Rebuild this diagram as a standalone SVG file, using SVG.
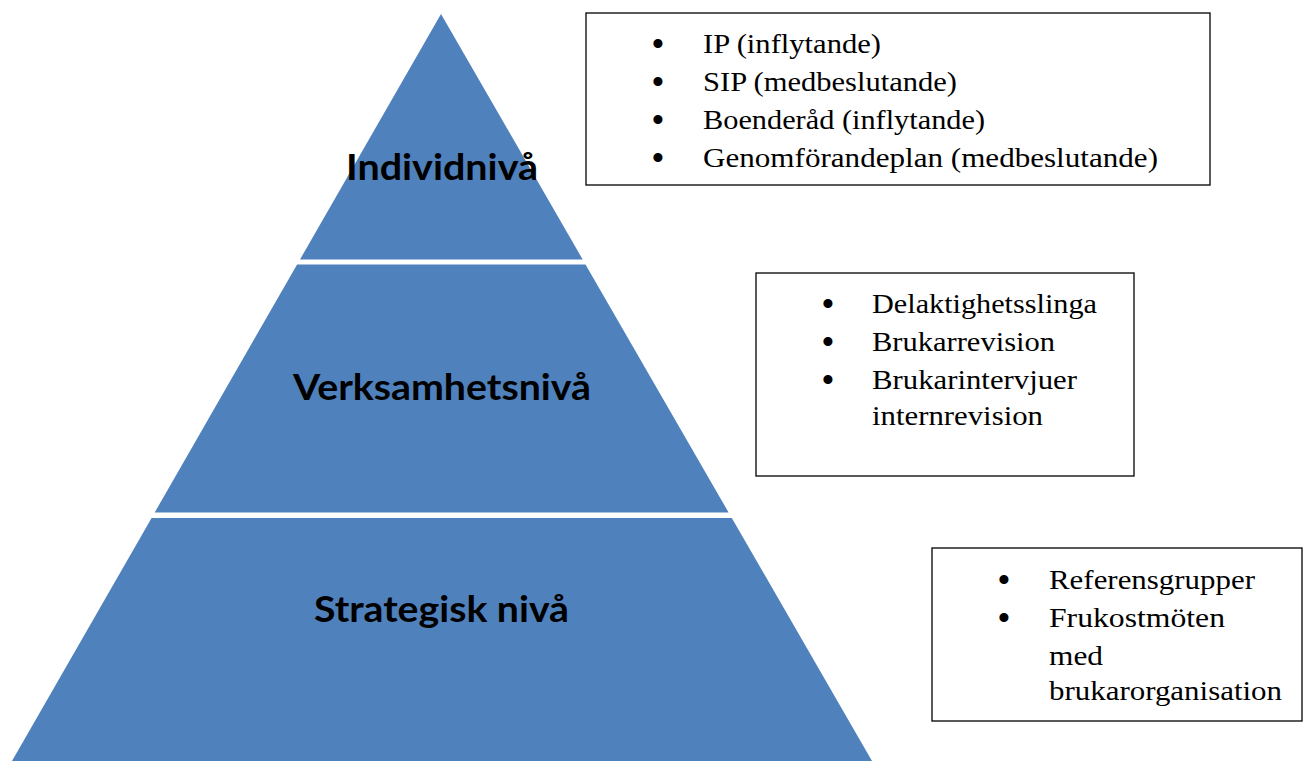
<svg xmlns="http://www.w3.org/2000/svg" width="1307" height="761" viewBox="0 0 1307 761">
<style>
.band{fill:#4F81BD;}
.lvl{font-family:Lato,"Open Sans","Liberation Sans",sans-serif;font-weight:bold;font-size:36px;fill:#000;text-anchor:middle;}
.box{fill:#fff;stroke:#000;stroke-width:1.3;}
.it{font-family:"Liberation Serif","DejaVu Serif",serif;font-size:28px;fill:#000;}
.bul{font-family:"Liberation Serif","DejaVu Serif",serif;font-size:38px;fill:#000;text-anchor:middle;}
</style>
<rect width="1307" height="761" fill="#fff"/>
<g id="level-individ">
<polygon class="band" points="441,14 582.7,259.5 300,259.5"/>
<text class="lvl" x="442" y="180" textLength="192" lengthAdjust="spacingAndGlyphs">Individnivå</text>
</g>
<g id="level-verksamhet">
<polygon class="band" points="297.1,264.5 585.5,264.5 728.6,512.5 154.7,512.5"/>
<text class="lvl" x="442" y="400" textLength="298" lengthAdjust="spacingAndGlyphs">Verksamhetsnivå</text>
</g>
<g id="level-strategisk">
<polygon class="band" points="151.6,518 731.8,518 872,761 12,761"/>
<text class="lvl" x="441.5" y="622" textLength="255" lengthAdjust="spacingAndGlyphs">Strategisk nivå</text>
</g>
<g id="box-individ">
<rect class="box" x="586" y="13" width="624" height="172"/>
<text class="bul" x="658" y="57">•</text>
<text class="it" x="703" y="53" textLength="178" lengthAdjust="spacingAndGlyphs">IP (inflytande)</text>
<text class="bul" x="658" y="95">•</text>
<text class="it" x="703" y="91" textLength="254" lengthAdjust="spacingAndGlyphs">SIP (medbeslutande)</text>
<text class="bul" x="658" y="133">•</text>
<text class="it" x="703" y="129" textLength="282" lengthAdjust="spacingAndGlyphs">Boenderåd (inflytande)</text>
<text class="bul" x="658" y="171">•</text>
<text class="it" x="703" y="167" textLength="455" lengthAdjust="spacingAndGlyphs">Genomförandeplan (medbeslutande)</text>
</g>
<g id="box-verksamhet">
<rect class="box" x="756" y="273" width="378" height="203"/>
<text class="bul" x="828" y="317">•</text>
<text class="it" x="872" y="313" textLength="225" lengthAdjust="spacingAndGlyphs">Delaktighetsslinga</text>
<text class="bul" x="828" y="355">•</text>
<text class="it" x="872" y="351" textLength="183" lengthAdjust="spacingAndGlyphs">Brukarrevision</text>
<text class="bul" x="828" y="393">•</text>
<text class="it" x="872" y="389" textLength="205" lengthAdjust="spacingAndGlyphs">Brukarintervjuer</text>
<text class="it" x="872" y="425" textLength="171" lengthAdjust="spacingAndGlyphs">internrevision</text>
</g>
<g id="box-strategisk">
<rect class="box" x="932" y="548" width="370" height="173"/>
<text class="bul" x="1004" y="593">•</text>
<text class="it" x="1049" y="589" textLength="206" lengthAdjust="spacingAndGlyphs">Referensgrupper</text>
<text class="bul" x="1004" y="631">•</text>
<text class="it" x="1049" y="627" textLength="176" lengthAdjust="spacingAndGlyphs">Frukostmöten</text>
<text class="it" x="1049" y="665" textLength="54" lengthAdjust="spacingAndGlyphs">med</text>
<text class="it" x="1049" y="700" textLength="233" lengthAdjust="spacingAndGlyphs">brukarorganisation</text>
</g>
<g id="connectors"></g>
</svg>
